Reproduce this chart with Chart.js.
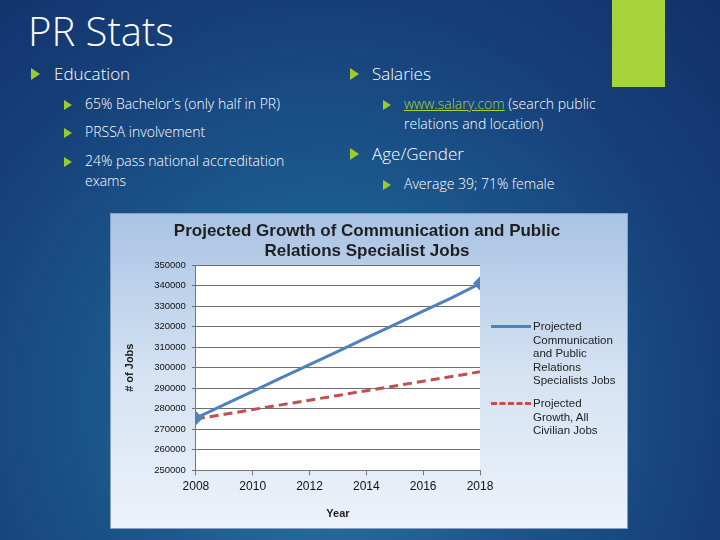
<!DOCTYPE html>
<html>
<head>
<meta charset="utf-8">
<script src="https://cdn.jsdelivr.net/npm/chart.js@4/dist/chart.umd.min.js"></script>
<style>
  body { margin:0; width:720px; height:540px; overflow:hidden;
    background: radial-gradient(ellipse at 45% 75%, #2a84a8 0%, #1c5a8e 35%, #163f78 70%, #12306a 100%);
    font-family: "Open Sans", sans-serif; font-weight:300; color:#fff; position:relative; }
  .t { position:absolute; white-space:nowrap; }
  .green { position:absolute; left:612px; top:0; width:53px; height:87px; background:#a6d23a; }
  .b { position:absolute; width:0; height:0; border-top:6px solid transparent; border-bottom:6px solid transparent; border-left:9px solid #9ccc2c; }
  .b.s { border-top-width:5px; border-bottom-width:5px; border-left-width:8px; }
  #box { position:absolute; left:110px; top:213px; width:516px; height:314px;
    background: linear-gradient(to bottom, #a9c3e4 0%, #d4e2f2 50%, #edf2fa 100%); border:1px solid #8aa0bf; }
  .leg { position:absolute; color:#222; font-family:"Liberation Sans", sans-serif; font-size:11.5px; line-height:13.5px; font-weight:400; }
  .ttl { position:absolute; left:0; width:516px; top:7px; text-align:center; padding-left:0; color:#1f1f1f;
    font-family:"Liberation Sans", sans-serif; font-weight:bold; font-size:17px; line-height:20px; }
</style>
</head>
<body>
<div class="green"></div>
<div class="t" style="left:28px;top:3px;font-size:40px;">PR Stats</div>

<div class="b" style="left:31px;top:68px"></div>
<div class="t" style="left:54px;top:62px;font-size:17px;">Education</div>
<div class="b s" style="left:64px;top:100px"></div>
<div class="t" style="left:85px;top:94px;font-size:14px;">65% Bachelor's (only half in PR)</div>
<div class="b s" style="left:64px;top:128px"></div>
<div class="t" style="left:85px;top:122px;font-size:14px;">PRSSA involvement</div>
<div class="b s" style="left:64px;top:157px"></div>
<div class="t" style="left:85px;top:151px;font-size:14px;line-height:20px;">24% pass national accreditation<br>exams</div>

<div class="b" style="left:350px;top:68px"></div>
<div class="t" style="left:372px;top:62px;font-size:17px;">Salaries</div>
<div class="b s" style="left:383px;top:100px"></div>
<div class="t" style="left:404px;top:94px;font-size:14px;line-height:20px;"><span style="color:#a6d23a;text-decoration:underline">www.salary.com</span> (search public<br>relations and location)</div>
<div class="b" style="left:350px;top:148px"></div>
<div class="t" style="left:372px;top:142px;font-size:17px;">Age/Gender</div>
<div class="b s" style="left:383px;top:180px"></div>
<div class="t" style="left:404px;top:174px;font-size:14px;">Average 39; 71% female</div>

<div id="box">
  <canvas id="c" width="516" height="314"></canvas>
  <div class="ttl" style="left:-2px;">Projected Growth of Communication and Public<br>Relations Specialist Jobs</div>
  <div class="leg" style="left:422px;top:106px;">Projected<br>Communication<br>and Public<br>Relations<br>Specialists Jobs</div>
  <div class="leg" style="left:422px;top:183px;">Projected<br>Growth, All<br>Civilian Jobs</div>
  <div style="position:absolute;left:380px;top:111px;width:40px;height:3px;background:#4f81bd;"></div>
  <div style="position:absolute;left:380px;top:188px;width:40px;border-top:3px dashed #c0504d;"></div>
</div>

<script>
// DATA
const years = [2008, 2009, 2010, 2011, 2012, 2013, 2014, 2015, 2016, 2017, 2018];
const prJobs = [275500, 282000, 288500, 295000, 301500, 308000, 314500, 321000, 327500, 334000, 341000];
const allJobs = [275000, 277300, 279600, 281900, 284200, 286500, 288800, 291100, 293400, 295700, 298000];
const yTicks = [250000, 260000, 270000, 280000, 290000, 300000, 310000, 320000, 330000, 340000, 350000];

const endsOnly = ctx => (ctx.dataIndex === 0 || ctx.dataIndex === years.length - 1) ? 5 : 0;

new Chart(document.getElementById("c"), {
  type: "line",
  data: {
    datasets: [
      { data: years.map((y, i) => ({ x: y, y: prJobs[i] })), borderColor: "#4f81bd", backgroundColor: "#4f81bd",
        borderWidth: 3, pointStyle: "rectRot", pointRadius: endsOnly, tension: 0 },
      { data: years.map((y, i) => ({ x: y, y: allJobs[i] })), borderColor: "#c0504d",
        borderWidth: 3, borderDash: [9, 5], pointRadius: 0, tension: 0 }
    ]
  },
  options: {
    responsive: false, animation: false,
    layout: { padding: { left: 8, right: 147, top: 51, bottom: 3 } },
    plugins: { legend: { display: false }, title: { display: false } },
    scales: {
      x: { type: "linear", min: 2008, max: 2018,
        afterBuildTicks: s => { s.ticks = [2008, 2010, 2012, 2014, 2016, 2018].map(v => ({ value: v })); },
        grid: { display: true, drawOnChartArea: false, color: "#777", tickLength: 5 },
        border: { color: "#777" },
        ticks: { color: "#111", padding: 4, font: { family: "Liberation Sans", size: 12 }, callback: v => String(v) },
        title: { display: true, text: "Year", color: "#222", padding: { top: 10 }, font: { family: "Liberation Sans", size: 11, weight: "bold" } } },
      y: { min: 250000, max: 350000,
        afterBuildTicks: s => { s.ticks = yTicks.map(v => ({ value: v })); },
        grid: { color: "#6e6e6e", tickLength: 4 },
        border: { color: "#777" },
        ticks: { color: "#111", padding: 6, font: { family: "Liberation Sans", size: 9.5 }, callback: v => String(v) },
        title: { display: true, text: "# of Jobs", color: "#222", padding: { bottom: 12 }, font: { family: "Liberation Sans", size: 11, weight: "bold" } } }
    }
  },
  plugins: [{
    id: "bg",
    beforeDraw(ch) {
      const a = ch.chartArea, g = ch.ctx;
      g.save(); g.fillStyle = "#fff"; g.fillRect(a.left, a.top, a.right - a.left, a.bottom - a.top); g.restore();
    }
  }]
});
</script>
</body>
</html>
